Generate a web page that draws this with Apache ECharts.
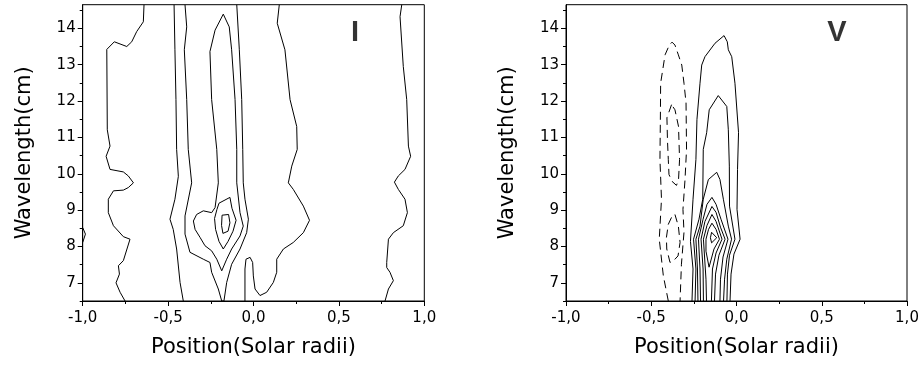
<!DOCTYPE html>
<html>
<head>
<meta charset="utf-8">
<script src="https://cdn.jsdelivr.net/npm/echarts@6/dist/echarts.min.js"></script>
<style>
  html, body { margin: 0; padding: 0; background: #fff; }
  #chart { width: 922px; height: 367px; }
</style>
</head>
<body>
<div id="chart"></div>
<script>
// axis ticks
const xTickValues = [-1, -0.5, 0, 0.5, 1]
const xTickLabels = ['-1,0', '-0,5', '0,0', '0,5', '1,0']
const yTickValues = [7, 8, 9, 10, 11, 12, 13, 14]
const yMinorValues = [6.5, 7.5, 8.5, 9.5, 10.5, 11.5, 12.5, 13.5, 14.5]
const panelTags = ['I', 'V']
const tagPos = [[0.594, 13.88], [0.589, 13.88]]

// ---- panel I: contour lines, [position, wavelength] ----
const iOuterLeft = [[-0.641,14.65],[-0.645,14.18],[-0.684,13.91],[-0.713,13.63],[-0.742,13.50],[-0.815,13.63],[-0.859,13.42],[-0.856,11.21],[-0.840,10.76],[-0.863,10.48],[-0.840,10.12],[-0.762,10.05],[-0.733,9.94],[-0.703,9.75],[-0.733,9.62],[-0.762,9.55],[-0.820,9.53],[-0.850,9.30],[-0.850,8.93],[-0.820,8.57],[-0.762,8.27],[-0.723,8.20],[-0.762,7.61],[-0.791,7.47],[-0.785,7.24],[-0.805,7.00],[-0.781,6.74],[-0.752,6.5]]
const iEdgeBump = [[-1,8.52],[-0.984,8.34],[-1,8.11]]
const iBand1 = [[-0.465,14.65],[-0.460,13.41],[-0.454,12.04],[-0.450,10.67],[-0.440,9.93],[-0.460,9.30],[-0.489,8.75],[-0.470,8.47],[-0.450,7.93],[-0.430,7.01],[-0.411,6.5]]
const iBand2 = [[-0.401,14.65],[-0.391,14.04],[-0.405,13.41],[-0.391,12.04],[-0.382,10.67],[-0.362,9.75],[-0.401,8.84],[-0.401,8.34],[-0.372,7.84],[-0.294,7.65],[-0.255,7.56],[-0.245,7.29],[-0.206,6.83],[-0.186,6.5],
  [-0.173,6.5],[-0.157,7.01],[-0.128,7.51],[-0.079,7.93],[-0.040,8.38],[-0.030,8.75],[-0.050,9.30],[-0.060,9.75],[-0.063,10.67],[-0.069,12.04],[-0.083,13.41],[-0.098,14.65]]
const iCore = [[-0.177,14.39],[-0.142,14.04],[-0.128,13.41],[-0.108,12.04],[-0.098,10.67],[-0.098,9.75],[-0.079,8.93],[-0.060,8.56],[-0.079,8.29],[-0.128,7.93],[-0.157,7.65],[-0.186,7.33],[-0.215,7.65],[-0.245,7.88],[-0.284,8.02],[-0.313,8.25],[-0.342,8.47],[-0.352,8.70],[-0.333,8.88],[-0.294,8.98],[-0.245,8.93],[-0.225,9.07],[-0.206,9.75],[-0.215,10.67],[-0.245,12.04],[-0.255,13.36],[-0.225,13.95],[-0.177,14.39]]
const iPeak1 = [[-0.202,9.19],[-0.138,9.35],[-0.126,9.05],[-0.102,8.72],[-0.120,8.42],[-0.149,8.14],[-0.177,7.93],[-0.202,8.14],[-0.222,8.47],[-0.228,8.77],[-0.214,9.02],[-0.202,9.19]]
const iPeak2 = [[-0.184,8.86],[-0.146,8.88],[-0.138,8.65],[-0.149,8.42],[-0.179,8.36],[-0.187,8.58],[-0.184,8.86]]
const iRightBand = [[0.151,14.65],[0.139,14.14],[0.184,13.41],[0.214,12.04],[0.253,11.30],[0.256,10.67],[0.224,10.21],[0.204,9.75],[0.233,9.57],[0.292,9.11],[0.328,8.72],[0.292,8.38],[0.233,8.11],[0.175,7.93],[0.136,7.65],[0.136,7.29],[0.116,7.01],[0.077,6.74],[0.038,6.65],[0.009,6.83],[-0.001,7.19],[-0.005,7.56],[-0.020,7.70],[-0.044,7.65],[-0.050,7.38],[-0.050,6.5]]
const iOuterRight = [[0.868,14.65],[0.858,14.32],[0.877,12.95],[0.897,12.04],[0.907,10.76],[0.920,10.48],[0.887,10.12],[0.848,9.94],[0.825,9.77],[0.848,9.57],[0.887,9.30],[0.901,8.93],[0.877,8.57],[0.819,8.38],[0.790,8.20],[0.780,7.56],[0.780,7.42],[0.799,7.29],[0.819,7.06],[0.790,6.83],[0.770,6.5]]

// ---- panel V: negative (dashed) and positive (solid) contours ----
const vNeg1 = [[-0.400,6.5],[-0.429,7.19],[-0.453,8.20],[-0.440,9.30],[-0.449,10.39],[-0.446,11.76],[-0.445,12.49],[-0.419,13.27],[-0.394,13.54],[-0.378,13.62],[-0.361,13.54],[-0.341,13.27],[-0.321,12.99],[-0.308,12.49],[-0.296,11.95],[-0.293,10.67],[-0.302,9.84],[-0.314,9.02],[-0.308,8.39],[-0.323,7.51],[-0.331,6.5]]
const vNeg2 = [[-0.381,11.90],[-0.408,11.54],[-0.405,10.94],[-0.400,10.39],[-0.396,9.98],[-0.378,9.79],[-0.352,9.68],[-0.340,9.84],[-0.334,10.39],[-0.340,11.30],[-0.361,11.76],[-0.381,11.90]]
const vNeg3 = [[-0.361,8.88],[-0.341,8.56],[-0.331,8.11],[-0.343,7.74],[-0.371,7.60],[-0.390,7.56],[-0.409,7.93],[-0.411,8.25],[-0.400,8.61],[-0.378,8.83],[-0.361,8.88]]
const vPos1 = [[-0.261,6.5],[-0.255,7.38],[-0.270,8.14],[-0.255,9.30],[-0.238,10.39],[-0.232,11.49],[-0.214,12.49],[-0.204,12.99],[-0.185,13.22],[-0.126,13.59],[-0.073,13.80],[-0.054,13.63],[-0.048,13.41],[-0.028,13.22],[-0.009,12.49],[0.012,11.13],[0.006,10.12],[0.003,9.02],[0.021,8.20],[-0.015,7.79],[-0.032,7.24],[-0.038,6.5]]
const vPos2 = [[-0.243,6.5],[-0.238,7.38],[-0.252,8.20],[-0.220,8.75],[-0.198,9.30],[-0.195,10.67],[-0.175,11.13],[-0.160,11.76],[-0.107,12.15],[-0.057,11.85],[-0.048,11.21],[-0.042,10.21],[-0.041,9.11],[-0.009,8.20],[-0.041,7.76],[-0.053,7.24],[-0.056,6.5]]
const vPos3 = [[-0.226,6.5],[-0.229,7.38],[-0.238,8.20],[-0.214,8.56],[-0.195,9.30],[-0.165,9.84],[-0.116,10.04],[-0.097,9.84],[-0.077,9.30],[-0.048,8.56],[-0.029,8.20],[-0.057,7.65],[-0.070,7.10],[-0.076,6.5]]
const vPos4 = [[-0.211,6.5],[-0.214,7.38],[-0.223,8.20],[-0.196,8.75],[-0.173,9.16],[-0.144,9.35],[-0.120,9.16],[-0.091,8.75],[-0.050,8.20],[-0.079,7.71],[-0.094,7.10],[-0.097,6.5]]
const vPos5 = [[-0.194,6.5],[-0.196,7.38],[-0.208,8.20],[-0.185,8.69],[-0.144,9.10],[-0.120,8.94],[-0.094,8.53],[-0.067,8.20],[-0.103,7.76],[-0.123,7.24],[-0.129,6.5]]
const vPos6 = [[-0.176,6.5],[-0.179,7.10],[-0.194,8.20],[-0.173,8.58],[-0.144,8.88],[-0.120,8.69],[-0.085,8.20],[-0.120,7.82],[-0.141,7.38],[-0.147,6.5]]
const vPos7 = [[-0.144,8.64],[-0.120,8.47],[-0.100,8.20],[-0.132,7.93],[-0.161,7.43],[-0.179,7.87],[-0.179,8.20],[-0.164,8.47],[-0.144,8.64]]
const vPos8 = [[-0.146,8.39],[-0.116,8.24],[-0.146,8.10],[-0.153,8.24],[-0.146,8.39]]

const panelI = [iOuterLeft, iEdgeBump, iBand1, iBand2, iCore, iPeak1, iPeak2, iRightBand, iOuterRight]
const panelVSolid = [vPos1, vPos2, vPos3, vPos4, vPos5, vPos6, vPos7, vPos8]
const panelVDashed = [vNeg1, vNeg2, vNeg3]

const FONT = 'DejaVu Sans'
const grids = [
  { left: 82.7, top: 4.7, width: 341.6, height: 296.3 },
  { left: 566, top: 4.7, width: 341, height: 296.3 }
]

function xAxisFor(gi) {
  return {
    gridIndex: gi,
    type: 'value',
    min: -1,
    max: 1,
    interval: 0.5,
    name: 'Position(Solar radii)',
    nameLocation: 'middle',
    nameGap: 36,
    nameTextStyle: { fontFamily: FONT, fontSize: 21, color: '#000' },
    axisLine: { onZero: false, lineStyle: { color: '#000', width: 1 } },
    axisTick: { length: 5, lineStyle: { color: '#000' } },
    minorTick: { show: true, splitNumber: 2, length: 3, lineStyle: { color: '#000' } },
    splitLine: { show: false },
    axisLabel: {
      margin: 10,
      fontFamily: FONT, fontSize: 15, color: '#000',
      formatter: v => xTickLabels[xTickValues.indexOf(Math.round(v * 10) / 10)]
    }
  }
}

function yAxesFor(gi) {
  return [
    {
      gridIndex: gi,
      type: 'value',
      min: 6.5,
      max: 14.65,
      position: 'left',
      name: 'Wavelength(cm)',
      nameLocation: 'middle',
      nameGap: 48,
      nameTextStyle: { fontFamily: FONT, fontSize: 21, color: '#000' },
      axisLine: { show: true, onZero: false, lineStyle: { color: '#000', width: 1 } },
      axisTick: { show: true, length: 5, customValues: yTickValues, lineStyle: { color: '#000' } },
      splitLine: { show: false },
      axisLabel: {
        margin: 7, customValues: yTickValues,
        fontFamily: FONT, fontSize: 15, color: '#000'
      }
    },
    {
      gridIndex: gi,
      type: 'value',
      min: 6.5,
      max: 14.65,
      position: 'left',
      axisLine: { show: false, onZero: false },
      axisTick: { show: true, length: 3, customValues: yMinorValues, lineStyle: { color: '#000' } },
      axisLabel: { show: false },
      splitLine: { show: false }
    }
  ]
}

function contour(data, gi, dashed) {
  return {
    type: 'line',
    xAxisIndex: gi,
    yAxisIndex: gi * 2,
    data: data,
    showSymbol: false,
    symbol: 'none',
    silent: true,
    animation: false,
    lineStyle: { color: '#000', width: 1, type: dashed ? [8, 5] : 'solid' }
  }
}

const series = []
panelI.forEach(c => series.push(contour(c, 0, false)))
panelVSolid.forEach(c => series.push(contour(c, 1, false)))
panelVDashed.forEach(c => series.push(contour(c, 1, true)))
panelTags.forEach((t, i) => {
  series.push({
    type: 'scatter',
    xAxisIndex: i,
    yAxisIndex: i * 2,
    data: [tagPos[i]],
    symbolSize: 1,
    itemStyle: { color: 'rgba(0,0,0,0)' },
    silent: true,
    animation: false,
    label: {
      show: true,
      position: 'inside',
      formatter: t,
      fontFamily: 'Liberation Sans',
      fontWeight: 'bold',
      fontSize: 29,
      color: '#000'
    }
  })
})

const chart = echarts.init(document.getElementById('chart'), null, { renderer: 'canvas' })
chart.setOption({
  backgroundColor: '#fff',
  animation: false,
  grid: grids.map(g => Object.assign({
    show: true,
    borderColor: '#000',
    borderWidth: 1,
    backgroundColor: 'transparent',
    containLabel: false,
    outerBoundsMode: 'none'
  }, g)),
  xAxis: [xAxisFor(0), xAxisFor(1)],
  yAxis: [...yAxesFor(0), ...yAxesFor(1)],
  series: series
})
</script>
</body>
</html>
